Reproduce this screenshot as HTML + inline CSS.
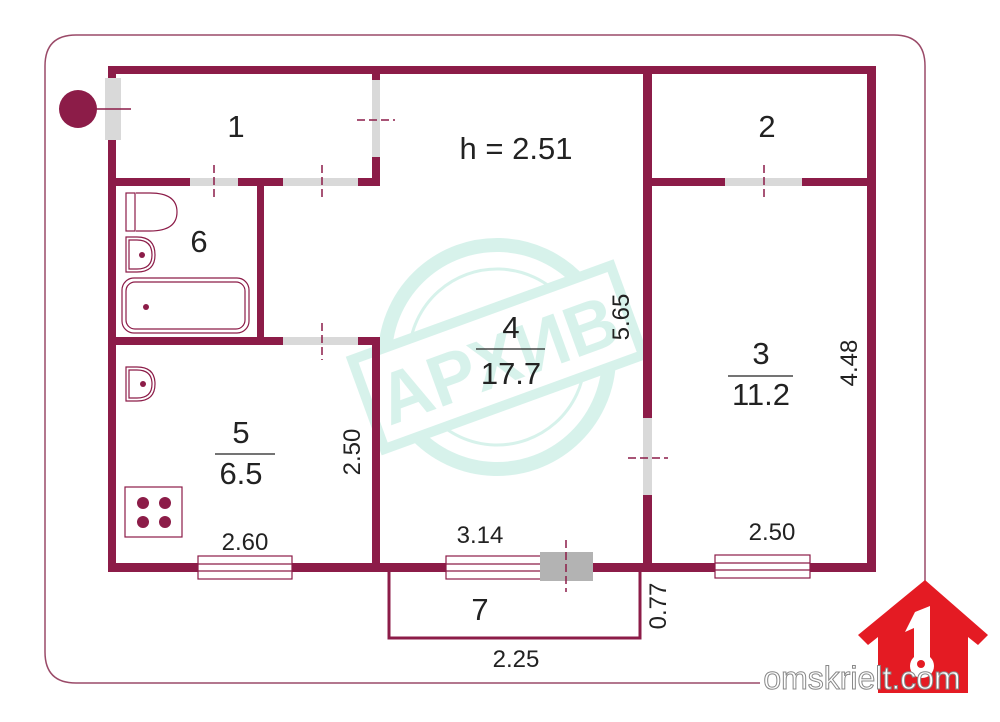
<!DOCTYPE html>
<html><head><meta charset="utf-8"><style>
html,body{margin:0;padding:0;background:#fff}
svg{display:block}
text{font-family:"Liberation Sans",sans-serif;fill:#222}
</style></head><body>
<svg width="1000" height="722" viewBox="0 0 1000 722" xmlns="http://www.w3.org/2000/svg">
<path d="M925 598 V66 Q925 35 894 35 H76 Q45 35 45 66 V652 Q45 683 76 683 H760" fill="none" stroke="#9a4a68" stroke-width="1.5"/>
<g opacity="0.4" stroke="#9ee0cf" fill="none" transform="rotate(-20 497 357)">
<circle cx="497" cy="357" r="112" stroke-width="14"/>
<circle cx="497" cy="357" r="88" stroke-width="3"/>
<rect x="360" y="310" width="275" height="95" fill="#fff" stroke-width="10"/>
<text x="497" y="385" text-anchor="middle" font-size="72" font-weight="bold" style="fill:#9ee0cf;stroke:none">АРХИВ</text>
</g>
<g fill="#8c1c48">
<rect x="108" y="66" width="768" height="8"/>
<rect x="108" y="66" width="8" height="506"/>
<rect x="867" y="66" width="9" height="506"/>
<rect x="108" y="563" width="768" height="9"/>
<rect x="372" y="66" width="8" height="120"/>
<rect x="108" y="178" width="272" height="8"/>
<rect x="257" y="178" width="7" height="167"/>
<rect x="108" y="337" width="272" height="8"/>
<rect x="372" y="337" width="8" height="235"/>
<rect x="643" y="66" width="9" height="506"/>
<rect x="652" y="178" width="224" height="8"/>
</g>
<g fill="#d9d9d9">
<rect x="105" y="78" width="16" height="62"/>
<rect x="372" y="80" width="8" height="77"/>
<rect x="190" y="178" width="48" height="8"/>
<rect x="283" y="178" width="75" height="8"/>
<rect x="283" y="337" width="75" height="8"/>
<rect x="643" y="418" width="9" height="77"/>
<rect x="725" y="178" width="77" height="8"/>
</g>
<g stroke="#8c1c48" stroke-width="1.5" stroke-dasharray="8 4" fill="none">
<line x1="95" y1="109" x2="131" y2="109" stroke-dasharray="none"/>
<line x1="357" y1="120" x2="395" y2="120"/>
<line x1="214" y1="165" x2="214" y2="200"/>
<line x1="322" y1="165" x2="322" y2="200"/>
<line x1="322" y1="323" x2="322" y2="360"/>
<line x1="628" y1="458" x2="668" y2="458"/>
<line x1="764" y1="165" x2="764" y2="200"/>
</g>
<circle cx="78" cy="109" r="19" fill="#8c1c48"/>
<g fill="#fff" stroke="#8c1c48" stroke-width="1.2">
<rect x="198" y="556" width="94" height="23"/><line x1="198" y1="564" x2="292" y2="564"/><line x1="198" y1="571" x2="292" y2="571"/>
<rect x="446" y="556" width="95" height="23"/><line x1="446" y1="564" x2="541" y2="564"/><line x1="446" y1="571" x2="541" y2="571"/>
<rect x="715" y="555" width="95" height="23"/><line x1="715" y1="563" x2="810" y2="563"/><line x1="715" y1="570" x2="810" y2="570"/>
</g>
<rect x="540" y="552" width="53" height="29" fill="#b3b3b3"/>
<line x1="566" y1="540" x2="566" y2="592" stroke="#8c1c48" stroke-width="1.5" stroke-dasharray="8 4"/>
<path d="M389 572 V638 H640 V572" fill="none" stroke="#8c1c48" stroke-width="3"/>
<g fill="none" stroke="#8c1c48" stroke-width="1.2">
<rect x="126" y="193" width="9" height="38"/>
<path d="M136 193 H150 Q177 193 177 212 Q177 231 150 231 H136"/>
<path d="M126 237 H137 Q155 237 155 255 Q155 272 137 272 H126 Z"/>
<path d="M129 240 H137 Q152 240 152 255 Q152 269 137 269 H129 Z"/>
<rect x="122" y="278" width="127" height="55" rx="12"/>
<rect x="126" y="282" width="119" height="47" rx="9"/>
<path d="M126 367 H137 Q155 367 155 384 Q155 401 137 401 H126 Z"/>
<path d="M129 370 H137 Q152 370 152 384 Q152 398 137 398 H129 Z"/>
<rect x="125" y="487" width="57" height="50"/>
</g>
<g fill="#8c1c48">
<circle cx="142" cy="255" r="3"/><circle cx="146" cy="307" r="3"/><circle cx="143" cy="384" r="3"/>
<circle cx="143" cy="503" r="6"/><circle cx="165" cy="503" r="6"/><circle cx="143" cy="522" r="6"/><circle cx="165" cy="522" r="6"/>
</g>
<g font-size="31">
<text x="236" y="137" text-anchor="middle">1</text>
<text x="516" y="159" text-anchor="middle">h = 2.51</text>
<text x="767" y="137" text-anchor="middle">2</text>
<text x="199" y="252" text-anchor="middle">6</text>
<text x="511" y="338" text-anchor="middle">4</text>
<text x="511" y="384" text-anchor="middle">17.7</text>
<text x="761" y="364" text-anchor="middle">3</text>
<text x="761" y="405" text-anchor="middle">11.2</text>
<text x="241" y="443" text-anchor="middle">5</text>
<text x="241" y="484" text-anchor="middle">6.5</text>
<text x="480" y="620" text-anchor="middle">7</text>
</g>
<g stroke="#222" stroke-width="1.3">
<line x1="476" y1="349" x2="545" y2="349"/><line x1="728" y1="376" x2="793" y2="376"/><line x1="215" y1="454" x2="275" y2="454"/>
</g>
<g font-size="24">
<text x="245" y="550" text-anchor="middle">2.60</text>
<text x="480" y="543" text-anchor="middle">3.14</text>
<text x="772" y="540" text-anchor="middle">2.50</text>
<text x="516" y="667" text-anchor="middle">2.25</text>
<text transform="translate(360 452) rotate(-90)" text-anchor="middle">2.50</text>
<text transform="translate(629 317) rotate(-90)" text-anchor="middle">5.65</text>
<text transform="translate(857 363) rotate(-90)" text-anchor="middle">4.48</text>
<text transform="translate(666 606) rotate(-90)" text-anchor="middle">0.77</text>
</g>
<path d="M925 580 L988 635 L978 645 L968 637 V693 H878 V637 L868 645 L858 635 Z" fill="#e41b23"/>
<path d="M915 612 L930 606 V668 H914 V628 L905 632 Z" fill="#fff"/>
<circle cx="922" cy="666" r="12" fill="#fff"/><circle cx="921" cy="664" r="4" fill="#e41b23"/>
<text x="862" y="689" text-anchor="middle" font-size="32" style="fill:#fff;stroke:#888;stroke-width:1">omskrielt.com</text>
</svg>
</body></html>
